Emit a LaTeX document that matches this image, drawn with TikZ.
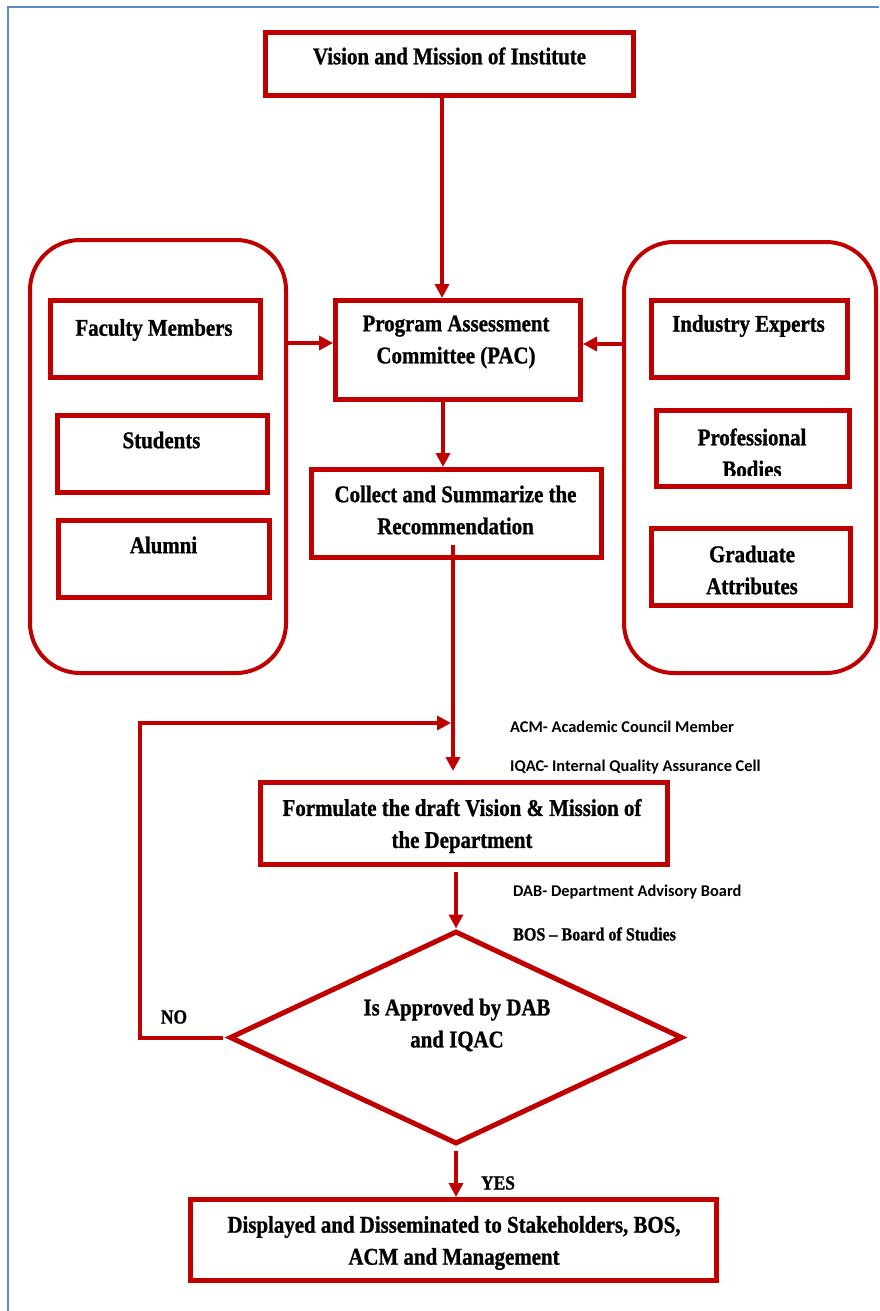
\documentclass[tikz,border=0pt]{standalone}
\usepackage{fontspec}
\setmainfont{Liberation Serif}[FakeStretch=0.87, BoldFeatures={FakeBold=1}]
\newfontfamily\sidefont{Carlito}
\usetikzlibrary{arrows.meta,shapes.geometric,calc}
\definecolor{flowred}{RGB}{192,0,0}
\definecolor{frameblue}{RGB}{91,137,205}

\begin{document}
\begin{tikzpicture}[x=1pt,y=-1pt,
  box/.style={draw=flowred, line width=5pt, rectangle, inner sep=0pt},
  panel/.style={draw=flowred, line width=4pt, rectangle, rounded corners=50pt, inner sep=0pt},
  txt/.style={font=\bfseries\fontsize{24}{32}\selectfont, align=center, inner sep=0pt},
  note/.style={font=\sidefont\bfseries\fontsize{16.4}{19}\selectfont, anchor=west, inner sep=0pt},
  tag/.style={font=\bfseries\fontsize{20}{22}\selectfont, inner sep=0pt},
  arr/.style={draw=flowred, line width=4pt, -{Triangle[length=14pt,width=14pt]}}
]
\useasboundingbox (0,0) rectangle (879,1311);

% page frame
\draw[frameblue, line width=1.5pt] (8,1311) -- (8,7) -- (879,7);

% stakeholder panels
\node[panel, minimum width=256pt, minimum height=433pt] (lc) at (158,456.5) {};
\node[panel, minimum width=252pt, minimum height=431pt] (rc) at (750,457.5) {};

% boxes
\node[box, minimum width=368pt, minimum height=63pt] (vis) at (449.5,64) {};
\node[box, minimum width=210pt, minimum height=77pt] (fac) at (155.5,339) {};
\node[box, minimum width=210pt, minimum height=77pt] (stu) at (162.5,454) {};
\node[box, minimum width=211pt, minimum height=77pt] (alu) at (164,559) {};
\node[box, minimum width=245pt, minimum height=99pt] (pac) at (458,350) {};
\node[box, minimum width=290pt, minimum height=88pt] (col) at (456.5,513.5) {};
\node[box, minimum width=196pt, minimum height=77pt] (ind) at (749.5,339) {};
\node[box, minimum width=193pt, minimum height=76pt] (pro) at (753,448.5) {};
\node[box, minimum width=199pt, minimum height=77pt] (gra) at (751,567) {};
\node[box, minimum width=407pt, minimum height=82pt] (form) at (464,823.5) {};
\node[box, minimum width=526pt, minimum height=81pt] (disp) at (453.5,1240) {};
\node[draw=flowred, line width=5pt, diamond, aspect=2.13, inner sep=0pt,
      minimum width=453pt, minimum height=213pt] (dia) at (456,1037.5) {};

% box texts
\node[txt] (visT) at (449.5,56) {Vision and Mission of Institute};
\node[txt] (facT) at (154,330) {Faculty Members};
\node[txt] (stuT) at (161.5,440) {Students};
\node[txt] (aluT) at (163.5,545) {Alumni};
\node[txt] (pacT) at (456,342) {Program Assessment\\Committee (PAC)};
\node[txt] (colT) at (455.5,510) {Collect and Summarize the\\Recommendation};
\node[txt] (indT) at (748.5,326) {Industry Experts};
\begin{scope}
  \clip (640,400) rectangle (860,475.5);
  \node[txt] (proT) at (752,453) {Professional\\Bodies};
\end{scope}
\node[txt] (graT) at (752,570) {Graduate\\Attributes};
\node[txt] (formT) at (462,826) {Formulate the draft Vision \& Mission of\\the Department};
\node[txt] (diaT) at (457,1025) {Is Approved by DAB\\and IQAC};
\node[txt] (dispT) at (454,1243) {Displayed and Disseminated to Stakeholders, BOS,\\ACM and Management};

% side notes
\node[note] (acm) at (510,727) {ACM- Academic Council Member};
\node[note] (iqac) at (510,767) {IQAC- Internal Quality Assurance Cell};
\node[note] (dab) at (513,892) {DAB- Department Advisory Board};
\node[note, font=\bfseries\fontsize{18.5}{20}\selectfont] (bos) at (513,934) {BOS – Board of Studies};

% decision labels
\node[tag] (no) at (174,1017) {NO};
\node[tag] (yes) at (498,1183) {YES};

% connectors
\draw[arr] ([xshift=-7.5pt]vis.south) -- ([xshift=-7.5pt]vis.south |- pac.north);
\draw[arr] ([yshift=7pt]lc.east |- pac.west) -- ([yshift=7pt]pac.west);
\draw[arr] ([yshift=6pt]rc.west |- pac.east) -- ([yshift=6pt]pac.east);
\draw[arr] ([xshift=-15pt]pac.south) -- ([xshift=-15pt]pac.south |- col.north);

\coordinate (cstart) at (453,545);
\coordinate (merge) at (451,723);
\draw[arr] (cstart) -- ([yshift=9pt]form.north -| cstart);
\draw[arr, shorten <=4pt] (dia.west) -- ++(-87,0) |- (merge);

\draw[arr, shorten <=5pt] (form.south -| dia.north) -- (dia.north);
\draw[arr, shorten <=4pt] (dia.south) -- (dia.south |- disp.north);

\end{tikzpicture}
\end{document}
